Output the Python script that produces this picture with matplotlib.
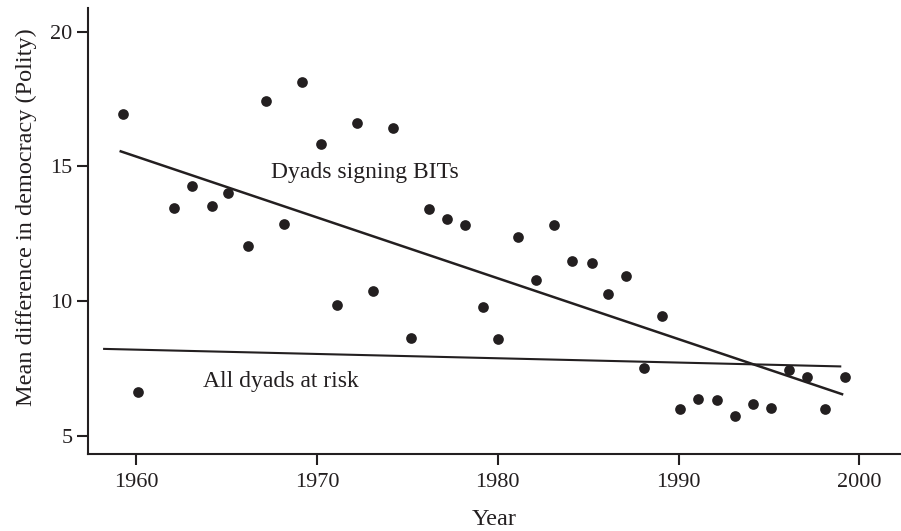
import matplotlib.pyplot as plt

plt.rcParams['font.family'] = ['Liberation Serif', 'DejaVu Serif']

# data
years = [1959.3, 1960.1, 1962.1, 1963.1, 1964.2, 1965.1, 1966.2, 1967.2, 1968.2,
         1969.2, 1970.2, 1971.1, 1972.2, 1973.1, 1974.2, 1975.2, 1976.2, 1977.2,
         1978.2, 1979.2, 1980.0, 1981.1, 1982.1, 1983.1, 1984.1, 1985.2, 1986.1,
         1987.1, 1988.1, 1989.1, 1990.1, 1991.1, 1992.1, 1993.1, 1994.1, 1995.1,
         1996.1, 1997.1, 1998.1, 1999.2]
polity_diff = [16.94, 6.63, 13.45, 14.27, 13.53, 14.01, 12.05, 17.43, 12.86,
               18.14, 15.83, 9.87, 16.62, 10.39, 16.43, 8.62, 13.43, 13.06,
               12.84, 9.80, 8.60, 12.37, 10.79, 12.82, 11.48, 11.41, 10.28,
               10.92, 7.53, 9.46, 5.99, 6.38, 6.33, 5.74, 6.20, 6.04,
               7.45, 7.19, 6.01, 7.20]

# fitted lines (end points)
bit_x = [1959.15, 1999.04]
bit_y = [15.56, 6.55]
risk_x = [1958.23, 1998.94]
risk_y = [8.23, 7.58]

xticks = [1960, 1970, 1980, 1990, 2000]
yticks = [5, 10, 15, 20]

ink = '#231f20'

fig = plt.figure(figsize=(9.01, 5.31), dpi=100)
ax = fig.add_axes([0.0977, 0.145, 0.9023, 0.84])

ax.plot(years, polity_diff, 'o', color=ink, markersize=7.7, markeredgewidth=0)
ax.plot(bit_x, bit_y, color=ink, lw=1.8)
ax.plot(risk_x, risk_y, color=ink, lw=1.5)

ax.text(1967.45, 14.76, 'Dyads signing BITs', fontsize=17, color=ink, va='center')
ax.text(1963.7, 7.01, 'All dyads at risk', fontsize=17, color=ink, va='center')

ax.set_xlim(1957.34, 2002.3)
ax.set_ylim(4.33, 20.88)
ax.set_xticks(xticks)
ax.set_yticks(yticks)

for s in ['top', 'right']:
    ax.spines[s].set_visible(False)
for s in ['left', 'bottom']:
    ax.spines[s].set_linewidth(1.5)
    ax.spines[s].set_color(ink)

ax.tick_params(direction='out', length=8, width=1.5, color=ink,
               labelsize=16, labelcolor=ink)
ax.tick_params(axis='x', pad=6)
ax.tick_params(axis='y', pad=3)

ax.set_xlabel('Year', fontsize=17.5, color=ink, labelpad=12)
ax.set_ylabel('Mean difference in democracy (Polity)', fontsize=17.5, color=ink)
ax.yaxis.set_label_coords(-0.063, 0.531)

fig.savefig('out.png', dpi=100)
